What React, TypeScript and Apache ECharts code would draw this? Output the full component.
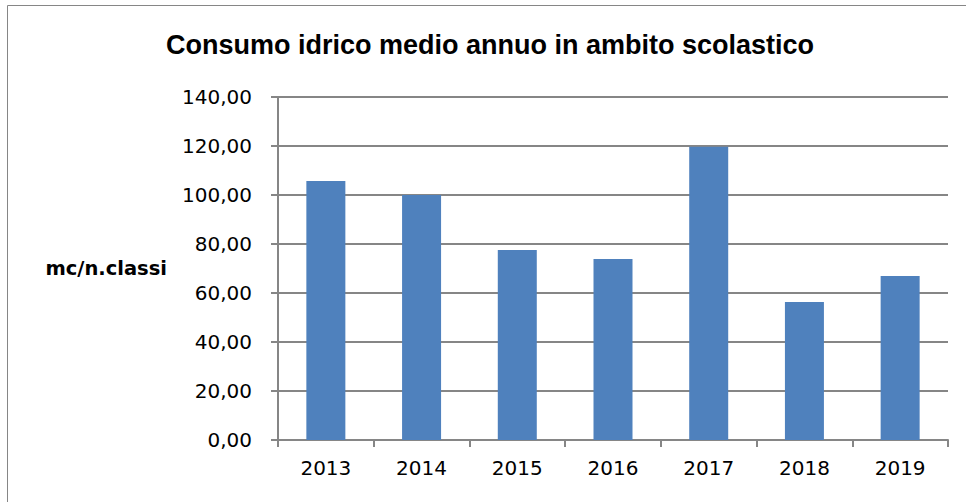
import React, { useEffect, useRef } from "react";
import * as echarts from "echarts";

const TITLE = "Consumo idrico medio annuo in ambito scolastico";
const Y_NAME = "mc/n.classi";
const YEARS = ["2013", "2014", "2015", "2016", "2017", "2018", "2019"];
const CONSUMO = [105.7, 100.0, 77.6, 73.9, 119.7, 56.3, 66.9];

const GRAY = "#868686";

export default function App() {
  const ref = useRef<HTMLDivElement>(null);
  useEffect(() => {
    if (!ref.current) return;
    const chart = echarts.init(ref.current, null, { renderer: "svg" });
    chart.setOption({
      animation: false,
      backgroundColor: "#ffffff",
      graphic: [
        {
          type: "rect",
          shape: { x: 7.5, y: 5.5, width: 1000, height: 600 },
          style: { fill: "none", stroke: GRAY, lineWidth: 1 },
          silent: true,
        },
        {
          type: "text",
          x: 490,
          y: 45,
          style: {
            text: TITLE,
            font: "bold 27px 'Liberation Sans', Arial, sans-serif",
            fill: "#000000",
            textAlign: "center",
            textVerticalAlign: "middle",
          },
        },
      ],
      grid: { left: 278, right: 18, top: 97, bottom: 62, containLabel: false },
      xAxis: {
        type: "category",
        data: YEARS,
        axisLine: { lineStyle: { color: GRAY, width: 2 } },
        axisTick: { show: true, length: 7, lineStyle: { color: GRAY, width: 2 } },
        axisLabel: {
          color: "#000000",
          fontFamily: "'DejaVu Sans', sans-serif",
          fontSize: 20,
          margin: 18,
        },
      },
      yAxis: {
        type: "value",
        min: 0,
        max: 140,
        interval: 20,
        name: Y_NAME,
        nameLocation: "middle",
        nameRotate: 0,
        nameGap: 111,
        nameTextStyle: {
          color: "#000000",
          fontFamily: "'DejaVu Sans', sans-serif",
          fontWeight: "bold",
          fontSize: 19.5,
          align: "right",
          verticalAlign: "middle",
        },
        axisLine: { show: true, lineStyle: { color: GRAY, width: 2 } },
        axisTick: { show: true, length: 7, lineStyle: { color: GRAY, width: 2 } },
        splitLine: { show: true, lineStyle: { color: GRAY, width: 2 } },
        axisLabel: {
          color: "#000000",
          fontFamily: "'DejaVu Sans', sans-serif",
          fontSize: 20,
          margin: 26,
          formatter: (v: number) => v.toFixed(2).replace(".", ","),
        },
      },
      series: [
        {
          type: "bar",
          data: CONSUMO,
          barWidth: 39,
          itemStyle: { color: "#4f81bd" },
        },
      ],
    });
    return () => chart.dispose();
  }, []);
  return (
    <div
      ref={ref}
      style={{ position: "absolute", left: 0, top: 0, width: 966, height: 502 }}
    />
  );
}
